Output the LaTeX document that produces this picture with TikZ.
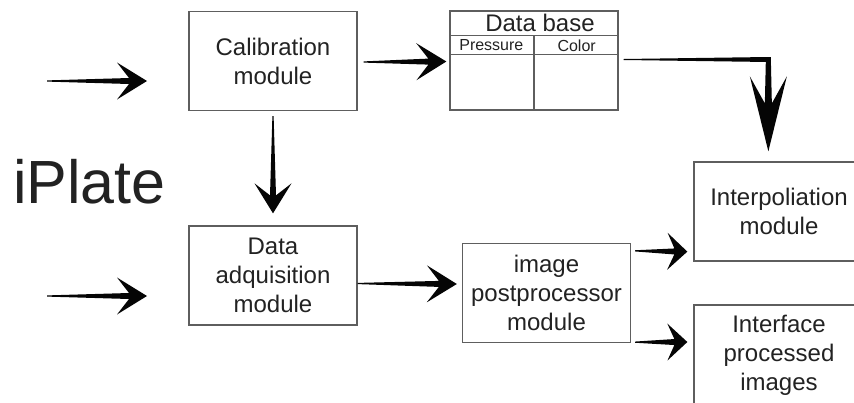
\documentclass[tikz,border=0pt]{standalone}
\usepackage{fontspec}
\setmainfont{Liberation Sans}
\usetikzlibrary{calc}
\definecolor{fr}{HTML}{5E5E5E}
\definecolor{tx}{HTML}{222222}
\definecolor{ar}{HTML}{050505}

\tikzset{
  box/.style={draw=fr, line width=1.3pt, minimum width=168pt, minimum height=99pt,
    inner sep=0pt, align=center, text=tx, font=\fontsize{24}{29}\selectfont},
  tableline/.style={draw=fr, line width=1.3pt},
  % tapered arrow: head length, half width, neck, tail half, shaft half
  taper/.style n args={5}{to path={
    ($(\tikztostart)!#4!90:(\tikztotarget)$)
    -- ($(\tikztotarget)!#3!(\tikztostart)!#5!-90:(\tikztostart)$)
    -- ($(\tikztotarget)!#1!(\tikztostart)!#2!-90:(\tikztostart)$)
    -- (\tikztotarget)
    -- ($(\tikztotarget)!#1!(\tikztostart)!#2!90:(\tikztostart)$)
    -- ($(\tikztotarget)!#3!(\tikztostart)!#5!90:(\tikztostart)$)
    -- ($(\tikztostart)!#4!-90:(\tikztotarget)$) -- cycle}},
  arr/.style={fill=ar, taper={30pt}{18.5pt}{18pt}{0.6pt}{3pt}},
  shortarr/.style={fill=ar, taper={20pt}{18.5pt}{13pt}{0.6pt}{3pt}}
}

\begin{document}
\begin{tikzpicture}[x=1pt, y=-1pt]
  \useasboundingbox (0,0) rectangle (854,402);

  % Title
  \node[anchor=base west, inner sep=0pt, text=tx, font=\fontsize{61}{62}\selectfont] (title) at (13,203) {iPlate};

  % Modules
  \node[box] (calib) at (273,61) {Calibration\\module};
  \node[box] (daq) at (273,275.5) {Data\\adquisition\\module};
  \node[box] (ipp) at (546.5,293) {image\\postprocessor\\module};
  \node[box, minimum width=170pt] (interp) at (779,211.5) {Interpoliation\\module};
  \node[box, minimum width=170pt, minimum height=100pt] (iface) at (779,355) {Interface\\processed\\images};

  % Data base
  \node[box] (db) at (534,60.5) {};
  \draw[tableline] ($(db.north west)+(0,25)$) -- ($(db.north east)+(0,25)$);
  \draw[tableline] ($(db.north west)+(0,44)$) -- ($(db.north east)+(0,44)$);
  \draw[tableline] ($(db.north)+(0,25)$) -- (db.south);
  \node[text=tx, inner sep=0pt, font=\fontsize{24}{26}\selectfont] (dbtitle) at ($(db.north)+(6,13)$) {Data base};
  \node[text=tx, inner sep=0pt, font=\fontsize{16}{18}\selectfont] (dbpres) at ($(db.north west)+(42,35)$) {Pressure};
  \node[text=tx, inner sep=0pt, font=\fontsize{16}{18}\selectfont] (dbcol) at ($(db.north east)+(-42,35)$) {Color};

  % Arrow ends
  \coordinate (in1s) at (47,81);
  \coordinate (in1e) at (147,81);
  \coordinate (in2s) at (47,296);
  \coordinate (in2e) at (147,296);
  \coordinate (cds) at ($(calib.south)+(0,5)$);
  \coordinate (cde) at ($(daq.north)+(0,-12)$);
  \coordinate (cbs) at ($(calib.east)+(6,1)$);
  \coordinate (cbe) at ($(db.west)+(-3,1)$);
  \coordinate (dis) at ($(daq.east)+(0,8)$);
  \coordinate (die) at ($(ipp.west)+(-5,-9)$);
  \coordinate (ips1) at ($(ipp.north east)+(4,8)$);
  \coordinate (ipe1) at ($(interp.south west)+(-6,-10)$);
  \coordinate (ips2) at ($(ipp.south east)+(4,-1)$);
  \coordinate (ipe2) at ($(iface.west)+(-6,-13)$);
  \coordinate (dbout) at ($(db.east)+(5,-1)$);
  \coordinate (interpin) at ($(interp.north west)+(75,-10)$);
  \coordinate (dbbend) at (interpin |- dbout);

  % Arrows
  \fill[arr] (in1s) to (in1e);
  \fill[arr] (in2s) to (in2e);
  \fill[arr] (cds) to (cde);
  \fill[arr] (cbs) to (cbe);
  \fill[arr] (dis) to (die);
  \fill[shortarr] (ips1) to (ipe1);
  \fill[shortarr] (ips2) to (ipe2);
  \fill[fill=ar, taper={0pt}{2.5pt}{0pt}{0.5pt}{2.5pt}] (dbout) to (dbbend);
  \fill[fill=ar, taper={75pt}{18.5pt}{48pt}{2.5pt}{3.5pt}] (dbbend) to (interpin);
  \fill[ar] ($(dbbend)+(-2.5,-2.5)$) rectangle ($(dbbend)+(2.5,2.5)$);
\end{tikzpicture}
\end{document}
